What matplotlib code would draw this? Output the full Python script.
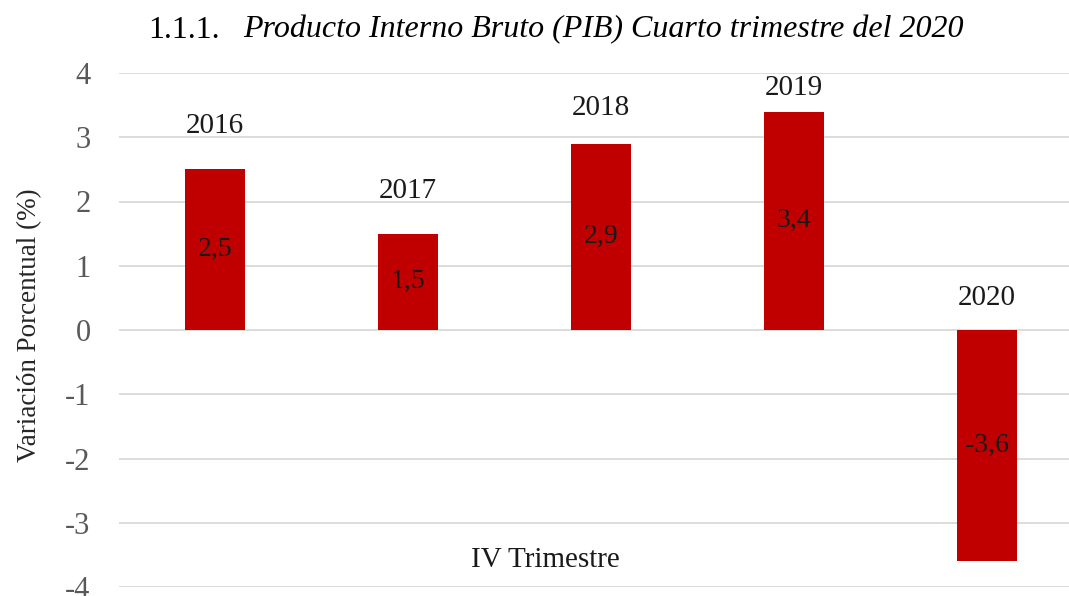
import matplotlib
matplotlib.use("Agg")
import matplotlib.pyplot as plt

years = ["2016", "2017", "2018", "2019", "2020"]
values = [2.5, 1.5, 2.9, 3.4, -3.6]
value_labels = ["2,5", "1,5", "2,9", "3,4", "-3,6"]
yticks = [-4, -3, -2, -1, 0, 1, 2, 3, 4]
year_label_offsets = [43, 43, 36, 24, 32]  # px above bar top / zero line

plt.rcParams['font.family'] = ['Liberation Serif', 'DejaVu Serif']

fig = plt.figure(figsize=(10.69, 5.96), dpi=100)
W, H = 1069, 596
left_px, right_px = 118.5, 1083.5
top_px, bot_px = 73, 587
ax = fig.add_axes([left_px / W, 1 - bot_px / H, (right_px - left_px) / W, (bot_px - top_px) / H])

x = list(range(len(years)))
bars = ax.bar(x, values, width=0.31, color="#C00000", zorder=3)

ax.set_xlim(-0.5, len(years) - 0.5)
ax.set_ylim(-4, 4)
ax.set_yticks(yticks)
ax.set_yticklabels([str(t) for t in yticks], fontsize=22, color="#595959")
ax.set_xticks([])
ax.tick_params(axis='y', length=0, pad=20)
for s in ax.spines.values():
    s.set_visible(False)
ax.yaxis.grid(True, color="#d9d9d9", linewidth=1.3, zorder=0)

px_per_unit = (bot_px - top_px) / 8.0
for xi, v, lab, yr, off in zip(x, values, value_labels, years, year_label_offsets):
    ax.text(xi, v / 2, lab, ha="center", va="center", fontsize=20, color="#1a1a1a", zorder=4)
    ax.text(xi, max(v, 0) + off / px_per_unit, yr, ha="center", va="center", fontsize=21, color="#1a1a1a")

ax.text(0.442, 0.053, "IV Trimestre", transform=ax.transAxes, ha="center", va="center",
        fontsize=21, color="#1a1a1a")

fig.text(30 / W, 1 - 325 / H, "Variación Porcentual (%)", rotation=90, ha="center", va="center",
         fontsize=19.5, color="#262626")

fig.text(148 / W, 1 - 30 / H, "1.1.1.", ha="left", va="center", fontsize=23, color="black")
fig.text(243 / W, 1 - 30 / H, "Producto Interno Bruto (PIB) Cuarto trimestre del 2020",
         ha="left", va="center", fontsize=23, style="italic", color="black")

fig.savefig("out.png", dpi=100)
